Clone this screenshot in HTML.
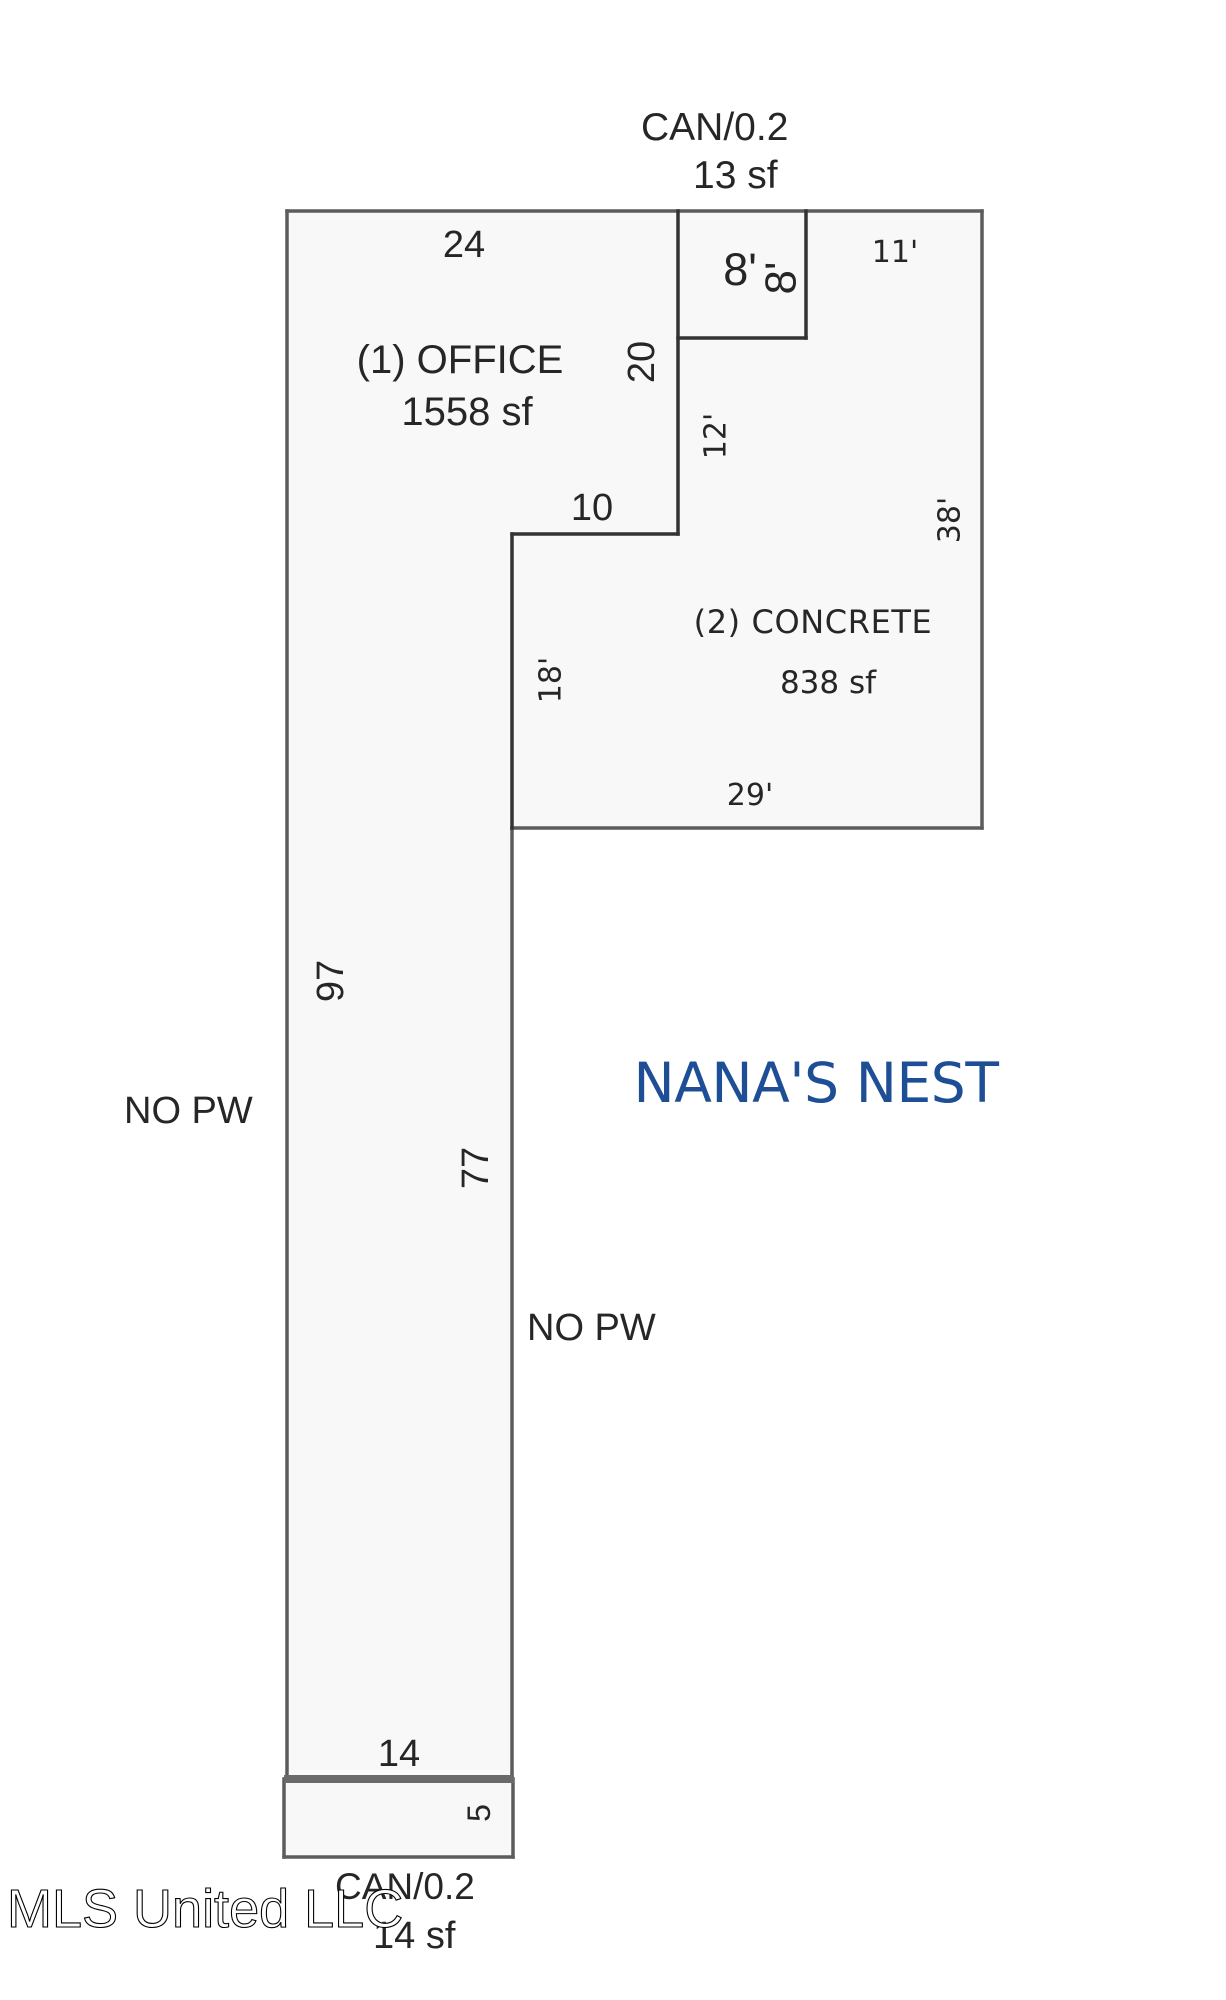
<!DOCTYPE html>
<html>
<head>
<meta charset="utf-8">
<style>
  html, body { margin:0; padding:0; background:#ffffff; }
  body { width:1226px; height:2000px; overflow:hidden; }
  svg { display:block; }
  .l { font-family:"Liberation Sans", Arial, sans-serif; fill:#262626; }
  .d { font-family:"DejaVu Sans", Verdana, sans-serif; fill:#262626; }
</style>
</head>
<body>
<svg width="1226" height="2000" viewBox="0 0 1226 2000" xmlns="http://www.w3.org/2000/svg">
  <rect x="0" y="0" width="1226" height="2000" fill="#ffffff"/>

  <!-- fills -->
  <polygon points="287,211 678,211 678,534 512,534 512,1779 287,1779" fill="#f8f8f8"/>
  <polygon points="678,338 806,338 806,211 982,211 982,828 512,828 512,534 678,534" fill="#f8f8f8"/>
  <rect x="678" y="211" width="128" height="127" fill="#f8f8f8"/>
  <rect x="284" y="1779" width="229" height="78" fill="#f8f8f8"/>

  <!-- outer lines -->
  <g stroke="#5c5c5c" stroke-width="3.5" fill="none" stroke-linecap="square">
    <line x1="287" y1="211" x2="982" y2="211"/>
    <line x1="982" y1="211" x2="982" y2="828"/>
    <line x1="512" y1="828" x2="982" y2="828"/>
    <line x1="287" y1="211" x2="287" y2="1779"/>
    <line x1="512" y1="828" x2="512" y2="1779"/>
    <!-- bottom box -->
    <line x1="284" y1="1779" x2="284" y2="1857"/>
    <line x1="513" y1="1779" x2="513" y2="1857"/>
    <line x1="284" y1="1857" x2="513" y2="1857"/>
  </g>
  <!-- inner darker lines -->
  <g stroke="#333333" stroke-width="3.5" fill="none" stroke-linecap="square">
    <line x1="678" y1="211" x2="678" y2="534"/>
    <line x1="806" y1="211" x2="806" y2="338"/>
    <line x1="678" y1="338" x2="806" y2="338"/>
    <line x1="512" y1="534" x2="678" y2="534"/>
    <line x1="512" y1="534" x2="512" y2="828"/>
  </g>
  <!-- thick separator -->
  <line x1="284" y1="1779" x2="514" y2="1779" stroke="#6a6a6a" stroke-width="8"/>

  <!-- top canopy label -->
  <text class="l" x="641" y="140" font-size="39">CAN/0.2</text>
  <text class="l" x="693" y="188" font-size="39">13 sf</text>

  <!-- office labels -->
  <text class="l" x="464" y="257" font-size="38" text-anchor="middle">24</text>
  <text class="l" x="460" y="373" font-size="40" text-anchor="middle">(1) OFFICE</text>
  <text class="l" x="467" y="425" font-size="40" text-anchor="middle">1558 sf</text>
  <text class="l" x="642" y="362" font-size="38" text-anchor="middle" dominant-baseline="central" transform="rotate(-90 642 362)">20</text>
  <text class="l" x="592" y="520" font-size="38" text-anchor="middle">10</text>

  <!-- canopy box 8' -->
  <text class="l" x="740" y="285" font-size="45" text-anchor="middle">8'</text>
  <text class="l" x="781" y="278" font-size="44" text-anchor="middle" dominant-baseline="central" transform="rotate(-90 781 278)">8'</text>

  <!-- concrete labels -->
  <text class="d" x="895" y="262" font-size="30" text-anchor="middle">11'</text>
  <text class="d" x="716" y="436" font-size="30" text-anchor="middle" dominant-baseline="central" transform="rotate(-90 716 436)">12'</text>
  <text class="d" x="950" y="520" font-size="30" text-anchor="middle" dominant-baseline="central" transform="rotate(-90 950 520)">38'</text>
  <text class="d" x="813" y="633" font-size="32" text-anchor="middle" letter-spacing="0.6">(2) CONCRETE</text>
  <text class="d" x="828" y="693" font-size="31" text-anchor="middle">838 sf</text>
  <text class="d" x="551" y="680" font-size="30" text-anchor="middle" dominant-baseline="central" transform="rotate(-90 551 680)">18'</text>
  <text class="d" x="750" y="805" font-size="30" text-anchor="middle">29'</text>

  <!-- strip labels -->
  <text class="l" x="331" y="981" font-size="38" text-anchor="middle" dominant-baseline="central" transform="rotate(-90 331 981)">97</text>
  <text class="l" x="124" y="1123" font-size="38">NO PW</text>
  <text class="l" x="476" y="1168" font-size="38" text-anchor="middle" dominant-baseline="central" transform="rotate(-90 476 1168)">77</text>
  <text class="l" x="527" y="1340" font-size="38">NO PW</text>

  <!-- title -->
  <text x="816" y="1102" font-size="55" text-anchor="middle" letter-spacing="-0.4" fill="#1e4f96" font-family="DejaVu Sans, Verdana, sans-serif">NANA'S NEST</text>

  <!-- bottom -->
  <text class="l" x="399" y="1766" font-size="38" text-anchor="middle">14</text>
  <text class="l" x="479" y="1813" font-size="32" text-anchor="middle" dominant-baseline="central" transform="rotate(-90 479 1813)">5</text>
  <text class="l" x="335" y="1899" font-size="37">CAN/0.2</text>
  <text class="l" x="373" y="1948" font-size="38">14 sf</text>

  <!-- watermark -->
  <text x="7" y="1927" font-size="54" fill="#ffffff" stroke="#000000" stroke-width="1.1" font-family="Liberation Sans, Arial, sans-serif">MLS United LLC</text>
</svg>
</body>
</html>
